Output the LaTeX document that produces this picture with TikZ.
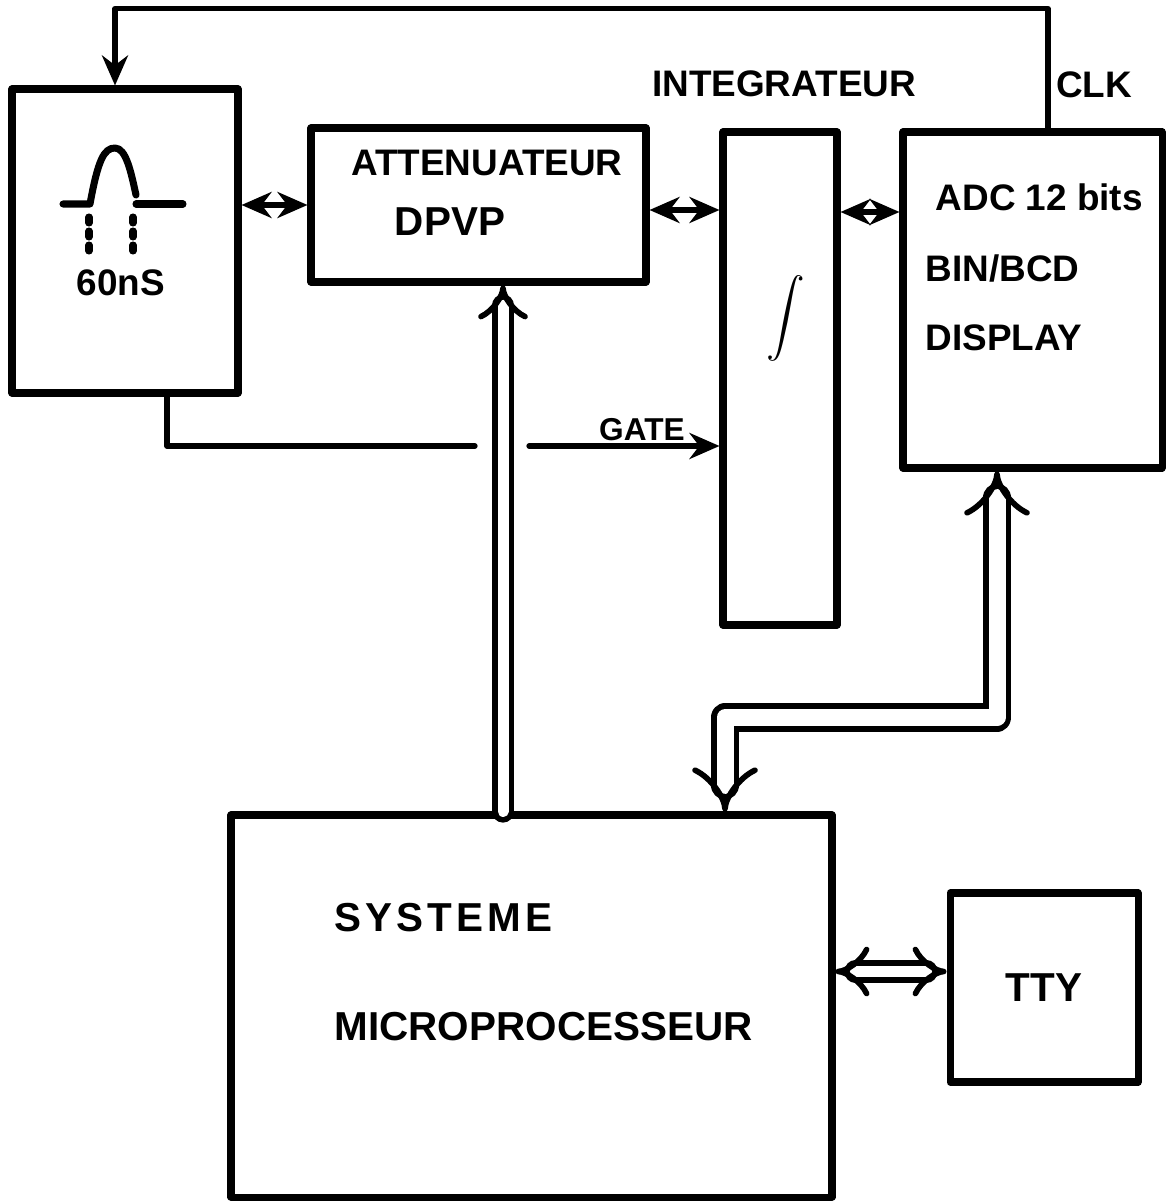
\documentclass[tikz,border=0pt]{standalone}
\usepackage{fontspec}
\setmainfont{Liberation Sans}
\usetikzlibrary{positioning, arrows.meta, calc}
\tikzset{
  block/.style={rectangle, draw=black, line width=2pt, inner sep=0pt},
  lettering/.style={font=\bfseries\fontsize{10.5}{12}\selectfont, inner sep=0pt},
  arrow/.style={line width=1.5pt, -{Stealth[length=3mm, width=2.6mm]}},
  biarrow/.style={line width=1.5pt, {Stealth[length=3mm, width=2.6mm]}-{Stealth[length=3mm, width=2.6mm]}},
  bus/.style={line width=1.6pt, double, double distance=#1},
  bus/.default=1.1mm
}

\begin{document}
\begin{tikzpicture}[
    line cap=round, line join=round,
    big/.style={lettering, font=\bfseries\fontsize{11.5}{13}\selectfont}
  ]
  \useasboundingbox (0,0) rectangle (11.66,-12.04);

  % Blocs
  \node (gen)   [block, minimum width=2.26cm, minimum height=3.04cm] at (1.25,-2.41) {};
  \node (atten) [block, minimum width=3.35cm, minimum height=1.54cm] at (4.785,-2.05) {};
  \node (integ) [block, minimum width=1.14cm, minimum height=4.93cm] at (7.80,-3.785) {};
  \node (adc)   [block, minimum width=2.59cm, minimum height=3.36cm] at (10.325,-3.00) {};
  \node (micro) [block, minimum width=6.01cm, minimum height=3.82cm] at (5.315,-10.06) {};
  \node (tty)   [block, minimum width=1.88cm, minimum height=1.89cm] at (10.44,-9.875) {};

  % Impulsion 60 ns
  \draw[line width=2pt] (0.63,-2.04) -- (0.90,-2.04)
    .. controls (0.98,-1.60) and (1.04,-1.48) .. (1.15,-1.48)
    .. controls (1.26,-1.48) and (1.31,-1.72) .. (1.36,-1.95);
  \draw[line width=2pt] (1.36,-2.04) -- (1.83,-2.04);
  \draw[line width=2pt, dash pattern=on 0.06cm off 0.08cm] (0.89,-2.17) -- (0.89,-2.52);
  \draw[line width=2pt, dash pattern=on 0.06cm off 0.08cm] (1.33,-2.17) -- (1.33,-2.52);
  \node (pulse) [lettering] at (1.21,-2.83) {60nS};

  % Textes
  \node (attA)  [lettering] at (4.87,-1.63) {ATTENUATEUR};
  \node (attB)  [big] at (4.50,-2.22) {DPVP};
  \node (intA)  [lettering] at (7.84,-0.84) {INTEGRATEUR};
  \node (clkA)  [lettering] at (10.94,-0.85) {CLK};
  \node (gateA) [lettering, font=\bfseries\fontsize{9}{10}\selectfont] at (6.42,-4.30) {GATE};
  \node (intsym) at (7.86,-3.18) {\scalebox{1.1}{$\displaystyle\int$}};
  \node (adcA)  [lettering, anchor=west] at (9.35,-1.97) {ADC 12 bits};
  \node (adcB)  [lettering, anchor=west] at (9.25,-2.68) {BIN/BCD};
  \node (adcC)  [lettering, anchor=west] at (9.25,-3.38) {DISPLAY};
  \node (sys)   [big, anchor=west] at (3.34,-9.18) {\addfontfeature{LetterSpace=10}SYSTEME};
  \node (mp)    [big, anchor=west] at (3.34,-10.27) {MICROPROCESSEUR};
  \node (ttyA)  [big] at (tty) {TTY};

  % Liaisons
  \draw[biarrow] (gen.east |- atten.west) -- (atten.west);
  \draw[biarrow] ([yshift=-0.5mm]atten.east) -- ([yshift=-0.5mm]atten.east -| integ.west);
  \draw[biarrow] ([yshift=-0.7mm]integ.east |- atten.east) -- ([yshift=-0.7mm]adc.west |- atten.east);

  % Horloge
  \draw[arrow] ([xshift=1.55mm]adc.north) -- ++(0,1.20) -| ([xshift=-1mm]gen.north);

  % Porte (coupee au passage du bus)
  \coordinate (gapL) at (4.75,-4.46);
  \coordinate (gapR) at (5.29,-4.46);
  \draw[line width=1.5pt] ([xshift=4.2mm]gen.south) |- (gapL);
  \draw[arrow] (gapR) -- (gapR -| integ.west);

  % Bus
  \coordinate (ab) at ([xshift=2.45mm]atten.south);
  \draw[bus, -Implies] (micro.north -| ab) -- (ab);
  \coordinate (db) at ([xshift=-3.55mm]adc.south);
  \coordinate (mb) at ([xshift=19.35mm]micro.north);
  \draw[bus=1.7mm, Implies-Implies] (db) -- ++(0,-2.46) -| (mb);
  \coordinate (tb) at ([yshift=1.6mm]tty.west);
  \draw[bus, Implies-Implies] (micro.east |- tb) -- (tb);
\end{tikzpicture}
\end{document}
